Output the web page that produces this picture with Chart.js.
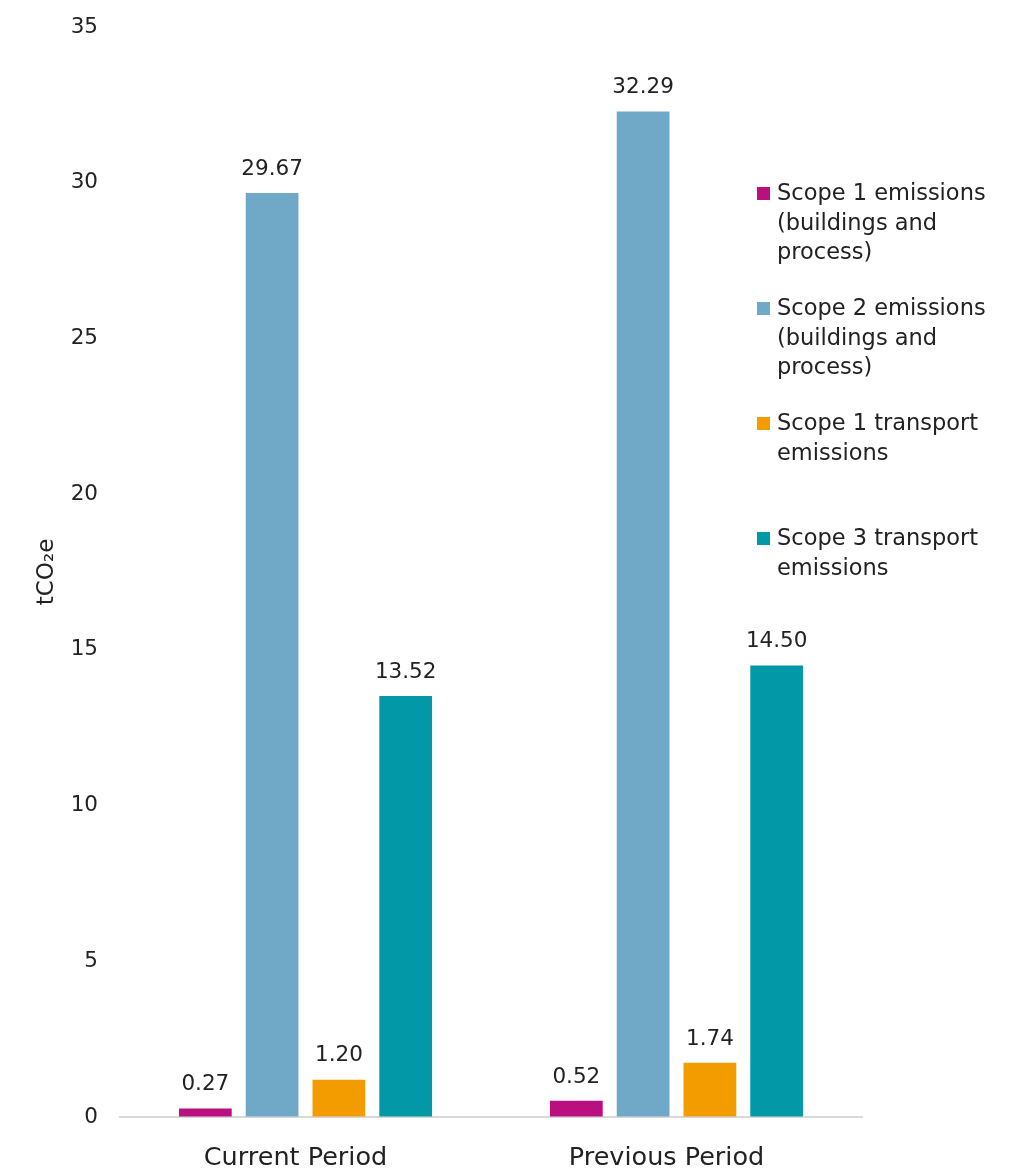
<!DOCTYPE html>
<html>
<head>
<meta charset="utf-8">
<script src="https://cdn.jsdelivr.net/npm/chart.js@4"></script>
<style>
  body { margin: 0; background: #fff; }
  #wrap { position: relative; width: 1027px; height: 1171px; }
  #myChart { position: absolute; left: 0; top: 0; }
  #legend { position: absolute; left: 757px; top: 178px; font-family: "DejaVu Sans", sans-serif; font-size: 22.5px; color: #222; }
  .item { position: absolute; left: 0; width: 270px; line-height: 29.5px; }
  .item .box { position: absolute; left: 0; top: 9px; width: 13px; height: 13px; }
  .item .txt { margin-left: 20px; }
</style>
</head>
<body>
<div id="wrap">
  <canvas id="myChart" width="1027" height="1171"></canvas>
  <div id="legend"></div>
</div>
<script>
// categories + values
const periods = ['Current Period', 'Previous Period'];
const scope1Buildings = [0.27, 0.52];
const scope2Buildings = [29.67, 32.29];
const scope1Transport = [1.20, 1.74];
const scope3Transport = [13.52, 14.50];
const yTicks = [0, 5, 10, 15, 20, 25, 30, 35];

// legend texts, one entry per line
const legendLines = [
    ['Scope 1 emissions', '(buildings and', 'process)'],
    ['Scope 2 emissions', '(buildings and', 'process)'],
    ['Scope 1 transport', 'emissions'],
    ['Scope 3 transport', 'emissions']
];
const legendTops = [0, 115, 230, 345];

const colours = ['#BA0F7E', '#6FA9C7', '#F39C00', '#0298A8'];
const fontName = '"DejaVu Sans", sans-serif';

// values on top of bars
const valueLabels = {
    id: 'valueLabels',
    afterDatasetsDraw(chart) {
        const c = chart.ctx;
        c.save();
        c.font = '21.5px ' + fontName;
        c.fillStyle = '#222';
        c.textAlign = 'center';
        c.textBaseline = 'bottom';
        chart.data.datasets.forEach((ds, i) => {
            chart.getDatasetMeta(i).data.forEach((bar, j) => {
                c.fillText(ds.data[j].toFixed(2), bar.x, bar.y - 13);
            });
        });
        c.restore();
    }
};

function buildLegend() {
    var legend = document.getElementById('legend');
    legendLines.forEach((lines, i) => {
        var item = document.createElement('div');
        item.className = 'item';
        item.style.top = legendTops[i] + 'px';
        var box = document.createElement('span');
        box.className = 'box';
        box.style.background = colours[i];
        var txt = document.createElement('div');
        txt.className = 'txt';
        txt.innerHTML = lines.join('<br>');
        item.appendChild(box);
        item.appendChild(txt);
        legend.appendChild(item);
    });
}

const seriesValues = [scope1Buildings, scope2Buildings, scope1Transport, scope3Transport];

const data = {
    labels: periods,
    datasets: seriesValues.map((vals, i) => ({
        label: legendLines[i].join(' '),
        data: vals,
        backgroundColor: colours[i],
        borderWidth: 0,
        barPercentage: 0.79,
        categoryPercentage: 0.72
    }))
};

const config = {
    type: 'bar',
    data: data,
    options: {
        responsive: false,
        animation: false,
        layout: { padding: { top: 27, right: 165, left: 0, bottom: 0 } },
        plugins: { legend: { display: false }, tooltip: { enabled: false } },
        scales: {
            x: {
                grid: { display: false, drawTicks: false },
                border: { color: '#D9D9D9', width: 2 },
                ticks: { color: '#222', font: { family: fontName, size: 25.5 }, padding: 26, labelOffset: -10 },
                afterFit(scale) { scale.height = 54; }
            },
            y: {
                min: 0,
                max: 35,
                afterBuildTicks(scale) { scale.ticks = yTicks.map(v => ({ value: v })); },
                // invisible tick marks give the label gap without adding vertical padding
                grid: { drawOnChartArea: false, drawTicks: true, tickLength: 18, tickColor: 'rgba(0,0,0,0)' },
                border: { display: false },
                ticks: { color: '#222', font: { family: fontName, size: 21.5 }, padding: 4 },
                title: {
                    display: true,
                    text: 'tCO₂e',
                    color: '#222',
                    font: { family: fontName, size: 23 },
                    padding: { top: 33, bottom: 0 }
                },
                afterFit(scale) { scale.width = 120; }
            }
        }
    },
    plugins: [valueLabels]
};

buildLegend();
const myChart = new Chart(document.getElementById('myChart'), config);
</script>
</body>
</html>
